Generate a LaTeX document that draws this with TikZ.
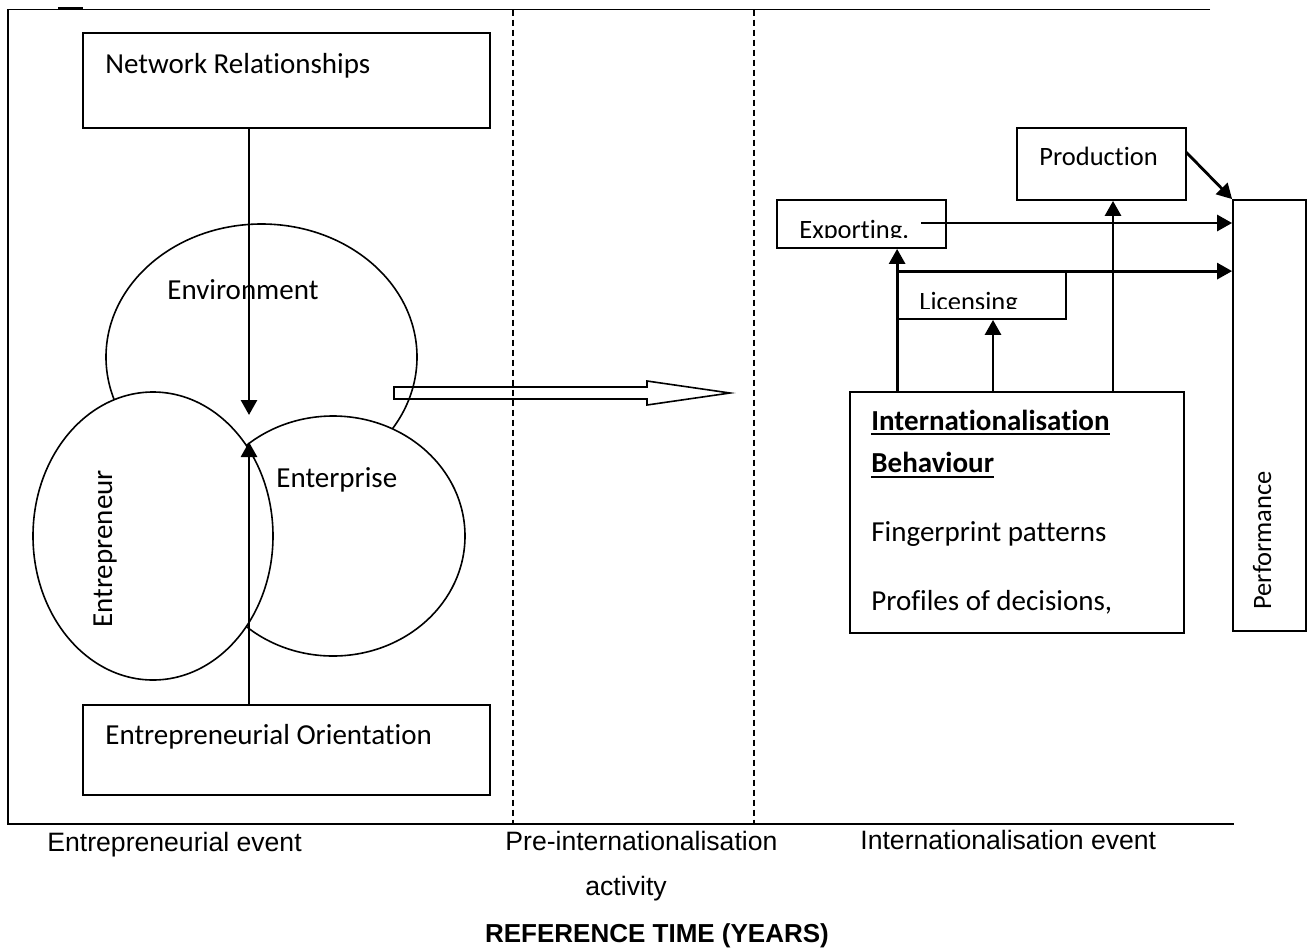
\documentclass[tikz,border=0pt]{standalone}
\usepackage{fontspec}
\setmainfont{Carlito}[Ligatures={NoCommon}, RawFeature={-liga;-clig;-dlig}]
\newfontfamily\arialfont{Liberation Sans}
\usetikzlibrary{arrows.meta,fit,calc,shapes.geometric}

\begin{document}
\begin{tikzpicture}[x=0.5pt,y=-0.5pt,
  frameline/.style={line width=0.9pt},
  divider/.style={line width=0.6pt, dash pattern=on 3pt off 2pt},
  box/.style={draw, line width=0.9pt, rectangle, inner sep=0pt},
  oval/.style={draw, line width=0.8pt, fill=white, ellipse, inner sep=0pt},
  arr/.style={line width=1.4pt, -{Triangle[length=7.5pt,width=8pt]}},
  big/.style={inner sep=0pt, anchor=base west, font=\fontsize{14.5}{17}\selectfont},
  bigbold/.style={big, font=\fontsize{14.5}{17}\selectfont\bfseries},
  small/.style={inner sep=0pt, anchor=base west, font=\fontsize{13.25}{16}\selectfont},
  axis/.style={inner sep=0pt, anchor=base west, font=\arialfont\fontsize{13.3}{16}\selectfont}
]
\useasboundingbox (0,0) rectangle (1311,948);

% frame and time divisions
\coordinate (tl) at (8,9.5);
\coordinate (tr) at (1210,9.5);
\coordinate (bl) at (8,824);
\coordinate (br) at (1234,824);
\draw[frameline] (tr) -- (tl) -- (bl) -- (br);
\coordinate (tick1) at (58,8);
\coordinate (tick2) at (83,8);
\draw[line width=1.5pt] (tick1) -- (tick2);
\coordinate (d1t) at (513,9.5);
\coordinate (d1b) at (513,824);
\coordinate (d2t) at (754,9.5);
\coordinate (d2b) at (754,824);
\draw[divider] (d1t) -- (d1b);
\draw[divider] (d2t) -- (d2b);

% left block: network, three overlapping circles, orientation
\node[box, fit={(83,33) (490,128)}] (net) {};
\node[big] (netlbl) at (105,73) {Network Relationships};
\node[box, fit={(83,705) (490,795)}] (eo) {};
\node[big] (eolbl) at (105,744) {Entrepreneurial Orientation};

\node[oval, minimum width=155.5pt, minimum height=133pt] (env) at (261.5,357) {};
\node[oval, minimum width=132pt, minimum height=120pt] (ent) at (333,536) {};
\node[oval, minimum width=120pt, minimum height=144pt] (epr) at (153,536) {};
\node[big] (envlbl) at (167,299) {Environment};
\node[big] (entlbl) at (276,487) {Enterprise};
\node[big, rotate=90] (eprlbl) at (112,628) {Entrepreneur};

\coordinate (down) at (249,415);
\coordinate (up) at (249,442);
\draw[arr] (net.south -| down) -- (down);
\draw[arr] (eo.north -| up) -- (up);

% hollow arrow across the pre-internationalisation period
\draw[line width=0.8pt] (394,387) -- (647,387) -- (647,381) -- (730,393)
  -- (647,405) -- (647,399) -- (394,399) -- cycle;

% right block: modes and behaviour
\node[box, fit={(1017,128) (1186,200)}] (prod) {};
\node[small] (prodlbl) at (1039,165) {Production};
\node[box, fit={(777,200) (946,248)}] (exp) {};
\begin{scope}
  \clip (777,200) rectangle (946,237);
  \node[small] (explbl) at (799,238) {Exporting.};
\end{scope}
\node[box, fit={(898,272) (1066,319)}] (lic) {};
\begin{scope}
  \clip (898,272) rectangle (1066,308);
  \node[small] (liclbl) at (919,310) {Licensing};
\end{scope}
\node[box, fit={(1233,200) (1306,631)}] (perf) {};
\node[small, rotate=90] (perflbl) at (1271,610) {Performance};

\node[box, fit={(850,392) (1184,633)}] (ib) {};
\node[bigbold] (ib1) at (871,430) {Internationalisation};
\node[bigbold] (ib2) at (871,472) {Behaviour};
\draw[line width=1pt] ($(ib1.base west)+(0,4)$) -- ($(ib1.base east)+(0,4)$);
\draw[line width=1pt] ($(ib2.base west)+(0,4.5)$) -- ($(ib2.base east)+(0,4.5)$);
\node[big] (ib3) at (871,541) {Fingerprint patterns};
\node[big] (ib4) at (871,610) {Profiles of decisions,};

\coordinate (lx) at (993,0);
\coordinate (px) at (1113,0);
\coordinate (ex) at (921,223);
\coordinate (pd) at (1186,152);
\draw[arr] (ib.north -| lic.west) -- (exp.south -| lic.west);
\draw[arr] (lic.north west) -- (lic.north west -| perf.west);
\draw[arr] (ex) -- (ex -| perf.west);
\draw[arr] (ib.north -| lx) -- (lic.south -| lx);
\draw[arr] (ib.north -| px) -- (prod.south -| px);
\draw[arr] (pd) -- (perf.north west);

% time axis labels
\node[axis] (t1) at (47,851) {Entrepreneurial event};
\node[axis] (t2) at (505,850) {Pre-internationalisation};
\node[axis] (t3) at (585,895) {activity};
\node[axis] (t4) at (860,849) {Internationalisation event};
\node[axis, anchor=base, font=\arialfont\bfseries\fontsize{13}{16}\selectfont] (tt) at (657,942) {REFERENCE TIME (YEARS)};
\end{tikzpicture}
\end{document}
